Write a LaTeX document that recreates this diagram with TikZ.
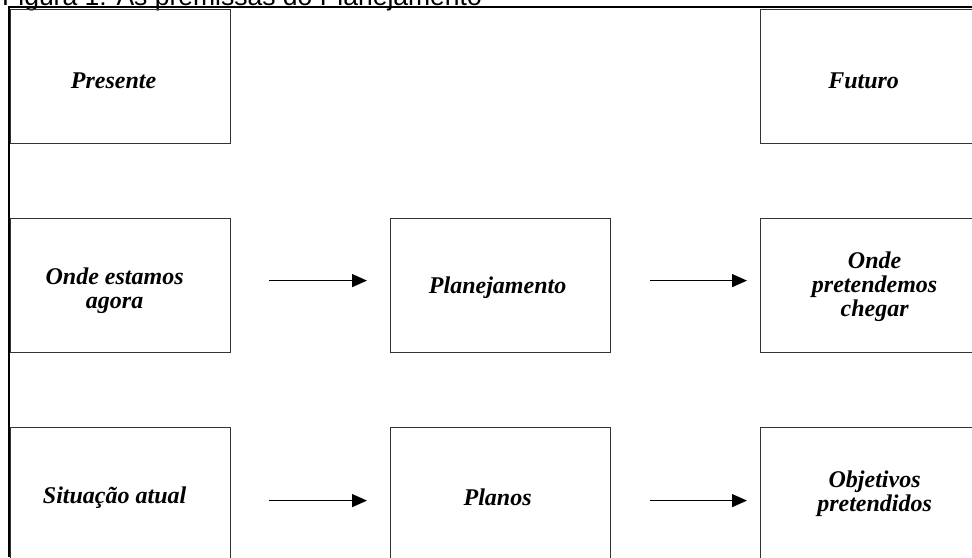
\documentclass[tikz,border=0pt]{standalone}
\usepackage{fontspec}
\setmainfont{Liberation Serif}
\newfontfamily\capfont{Liberation Sans}
\usetikzlibrary{arrows.meta}
\begin{document}
\begin{tikzpicture}[x=1pt,y=-1pt,
  stage/.style={draw=black!80, line width=1.2pt, minimum width=220pt,
    minimum height=134pt, inner sep=0pt, anchor=north west},
  lbl/.style={inner sep=0pt, align=center,
    font=\fontsize{24}{24}\selectfont\bfseries\itshape},
  flow/.style={-{Triangle[length=15pt,width=13pt]}, line width=1.3pt},
]
\useasboundingbox (0,0) rectangle (972,557);
\clip (0,0) rectangle (972,557);

% caption, cut by the top edge
\node[anchor=base west, inner sep=0pt, font=\capfont\fontsize{26.5}{26.5}\selectfont]
  (caption) at (2,5) {Figura 1: As premissas do Planejamento};

% outer frame
\draw[line width=2.2pt] (9,557) -- (9,7) -- (972,7);

% boxes
\node[stage] (pres)   at (10,9)    {};
\node[stage] (fut)    at (760,9)   {};
\node[stage] (agora)  at (10,218)  {};
\node[stage] (plan)   at (390,218) {};
\node[stage] (cheg)   at (760,218) {};
\node[stage] (sit)    at (10,427)  {};
\node[stage] (planos) at (390,427) {};
\node[stage] (obj)    at (760,427) {};

% box texts
\node[lbl] (tpres)   at ([shift={(-7,4)}]pres.center)   {Presente};
\node[lbl] (tfut)    at ([shift={(-7,4)}]fut.center)    {Futuro};
\node[lbl] (tagora)  at ([shift={(-6,5)}]agora.center)  {Onde estamos\\agora};
\node[lbl] (tplan)   at ([shift={(-3,2)}]plan.center)   {Planejamento};
\node[lbl] (tcheg)   at ([shift={(4,1)}]cheg.center)    {Onde\\pretendemos\\chegar};
\node[lbl] (tsit)    at ([shift={(-6,3)}]sit.center)    {Situação atual};
\node[lbl] (tplanos) at ([shift={(-3,3)}]planos.center) {Planos};
\node[lbl] (tobj)    at ([shift={(4,-1)}]obj.center)    {Objetivos\\pretendidos};

% arrows
\draw[flow, shorten <=38pt, shorten >=23pt] ([yshift=5pt]agora.east) -- ([yshift=5pt]plan.west);
\draw[flow, shorten <=39pt, shorten >=13pt] ([yshift=5pt]plan.east) -- ([yshift=5pt]cheg.west);
\draw[flow, shorten <=38pt, shorten >=23pt] ([yshift=-6pt]sit.east) -- ([yshift=-6pt]planos.west);
\draw[flow, shorten <=39pt, shorten >=13pt] ([yshift=-6pt]planos.east) -- ([yshift=-6pt]obj.west);
\end{tikzpicture}
\end{document}
